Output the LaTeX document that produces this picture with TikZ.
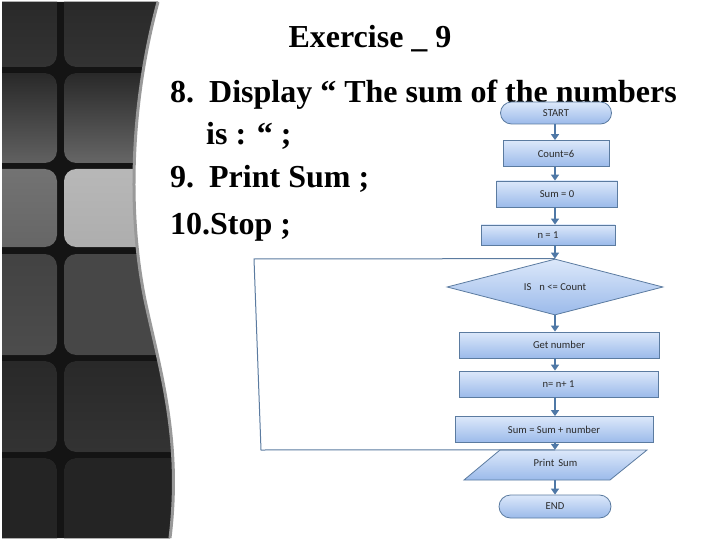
\documentclass[tikz,border=0pt]{standalone}
\usepackage{fontspec}
\setmainfont{Liberation Serif}
\newfontfamily\flowfont{Carlito}
\usetikzlibrary{shapes.geometric,shapes.misc,arrows.meta}
\definecolor{edgeblue}{HTML}{5B7BA0}
\definecolor{arrowblue}{HTML}{4F78A6}
\definecolor{fillTop}{HTML}{DCE8FA}
\definecolor{fillBot}{HTML}{9BBAEA}
\definecolor{txtgray}{HTML}{2A2A2A}
\tikzset{
  flowtext/.style={font=\flowfont\fontsize{10.6}{11}\selectfont, text=txtgray},
  fbox/.style={draw=edgeblue, line width=0.8pt, top color=fillTop, bottom color=fillBot,
    flowtext, inner sep=0pt},
  procbox/.style={fbox, rectangle},
  termbox/.style={fbox, rounded rectangle},
  arr/.style={draw=arrowblue, line width=2pt, -{Triangle[length=6pt,width=8pt]}},
  loopline/.style={draw=edgeblue, line width=1pt},
  bigtext/.style={font=\bfseries\fontsize{32}{34}\selectfont, anchor=base west, inner sep=0pt},
  tile/.style={rounded corners=12pt}
}
\begin{document}
\begin{tikzpicture}[x=1pt,y=-1pt]
\useasboundingbox (0,0) rectangle (720,540);
\fill[white] (0,0) rectangle (720,540);
% left decorative panel
\begin{scope}
  \clip (2,2) -- (158,2) .. controls (134,90) and (125,200) .. (145,300)
        .. controls (160,370) and (182,440) .. (170,538) -- (2,538) -- cycle;
  \fill[black!92] (0,0) rectangle (200,540);
  % row 0
  \fill[tile, top color=black!85, bottom color=black!80] (-20,-20) rectangle (57,67);
  \fill[tile, top color=black!85, bottom color=black!80] (64,-20) rectangle (230,67);
  % row 1
  \fill[tile, top color=black!84, bottom color=black!62] (-20,73) rectangle (57,163);
  \fill[tile, top color=black!84, bottom color=black!60] (64,73) rectangle (230,163);
  % row 2
  \fill[tile, top color=black!55, bottom color=black!60] (-20,169) rectangle (57,247);
  \fill[tile, top color=black!28, bottom color=black!32] (64,169) rectangle (230,247);
  % row 3
  \fill[tile, top color=black!74, bottom color=black!70] (-20,254) rectangle (57,355);
  \fill[tile, top color=black!72, bottom color=black!72] (64,254) rectangle (230,355);
  % row 4
  \fill[tile, top color=black!84, bottom color=black!80] (-20,361) rectangle (57,452);
  \fill[tile, top color=black!84, bottom color=black!80] (64,361) rectangle (230,452);
  % row 5
  \fill[tile, top color=black!86, bottom color=black!86] (-20,458) rectangle (57,560);
  \fill[tile, top color=black!86, bottom color=black!86] (64,458) rectangle (230,560);
\end{scope}
\draw[black!40, line width=3pt] (158,2) .. controls (134,90) and (125,200) .. (145,300)
        .. controls (160,370) and (182,440) .. (170,538);
% title and text
\node[font=\bfseries\fontsize{32}{34}\selectfont, anchor=base, inner sep=0pt] (title) at (370,48) {Exercise \_ 9};
\node[bigtext] (l8) at (170,103) {8.\hspace{15pt}Display “ The sum of the numbers};
\node[bigtext] (l8b) at (206,145) {is : “ ;};
\node[bigtext] (l9) at (170,188) {9.\hspace{15pt}Print Sum ;};
\node[bigtext] (l10) at (170,235) {10.Stop ;};
% flowchart
\coordinate (spine) at (555,0);
\node[termbox, minimum width=111pt, minimum height=22pt] (start) at (556,113) {START};
\node[procbox, minimum width=106pt, minimum height=26pt] (count) at (556,153.5) {Count=6};
\node[procbox, minimum width=121pt, minimum height=26pt] (sum0) at (557,194) {Sum = 0};
\node[procbox, minimum width=134pt, minimum height=20pt] (n1) at (548,235) {n = 1};
\node[fbox, diamond, aspect=3.86, minimum width=216pt, minimum height=56pt] (dia) at (555,287) {IS\hspace{8pt}n <= Count};
\node[procbox, minimum width=200pt, minimum height=26pt] (get) at (559,345) {Get number};
\node[procbox, minimum width=199pt, minimum height=26pt] (inc) at (558.5,384) {n= n+ 1};
\node[procbox, minimum width=198pt, minimum height=26pt] (add) at (554,429.5) {Sum = Sum + number};
% parallelogram (input/output)
\path[fbox] (464,480) -- (610,480) -- (647,450) -- (500,450) -- cycle;
\node[flowtext, inner sep=0pt, minimum width=146pt, minimum height=30pt, text depth=5pt]
  (print) at (555.5,465) {Print\hspace{4pt}Sum};
\node[termbox, minimum width=112pt, minimum height=23pt] (end) at (555,506.5) {END};
% loop back
\coordinate (lb) at (261,450);
\coordinate (lt) at (254,259);
\draw[loopline] (print.north -| spine) -- (lb) -- (lt) -- (dia.north -| spine);
% arrows
\draw[arr] (start.south -| spine) -- (count.north -| spine);
\draw[arr] (count.south -| spine) -- (sum0.north -| spine);
\draw[arr] (sum0.south -| spine) -- (n1.north -| spine);
\draw[arr] (n1.south -| spine) -- (dia.north -| spine);
\draw[arr] (dia.south -| spine) -- (get.north -| spine);
\draw[arr] (get.south -| spine) -- (inc.north -| spine);
\draw[arr] (inc.south -| spine) -- (add.north -| spine);
\draw[arr] (add.south -| spine) -- (print.north -| spine);
\draw[arr] (print.south -| spine) -- (end.north -| spine);
\end{tikzpicture}
\end{document}
